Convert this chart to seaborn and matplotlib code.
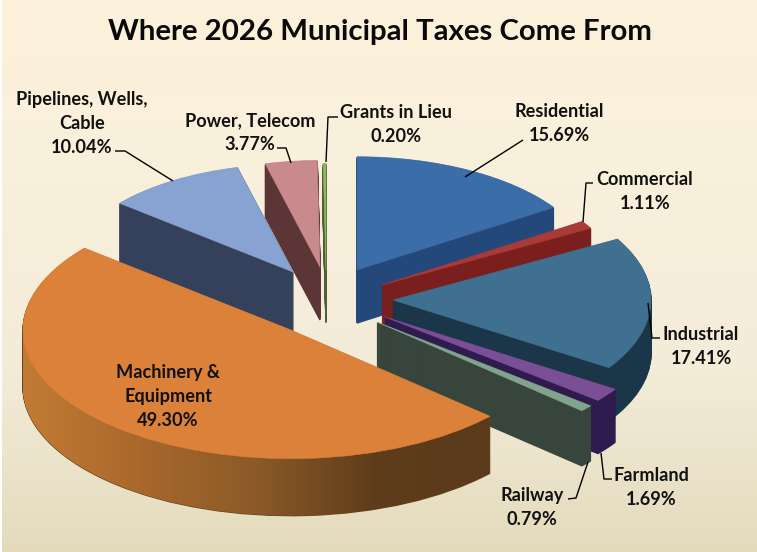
# /plot.py
"""
Where 2026 Municipal Taxes Come From - exploded 3D style pie.
The depth is faked by stacking ax.pie wedges on a squashed y axis.
"""
import numpy as np
import matplotlib
matplotlib.use("Agg")
import matplotlib.pyplot as plt
from matplotlib.colors import LinearSegmentedColormap
from matplotlib.path import Path
import seaborn as sns

# Data
categories = ["Residential", "Commercial", "Industrial", "Farmland", "Railway",
              "Machinery & Equipment", "Pipelines, Wells, Cable", "Power, Telecom", "Grants in Lieu"]
shares = [15.69, 1.11, 17.41, 1.69, 0.79, 49.30, 10.04, 3.77, 0.20]
label_names = ["Residential", "Commercial", "Industrial", "Farmland", "Railway",
               "Machinery &\nEquipment", "Pipelines, Wells,\nCable", "Power, Telecom", "Grants in Lieu"]

# Colours
top_colors = ["#3B6DA8", "#A93A38", "#40708F", "#7B4F96", "#80A58C",
              "#DB813A", "#88A3D1", "#C88A8D", "#8FB56A"]
side_colors = ["#24487A", "#7A1F1E", "#1B3648", "#2F1B4E", "#38453C",
               "#6B441F", "#35405A", "#5C3636", "#4D6035"]
machinery_side = ["#C27B34", "#A9682C", "#8B5A28", "#5F3D1B", "#5A3A1C"]
background = ["#FCF1DA", "#F9F0DC", "#F3ECD8", "#E4DBBD"]

# Layout, in pixels of the 757x552 picture
SQUASH = 0.48
apex_px = [(357, 270), (382, 285), (393, 300), (385, 317), (377, 322),
           (291, 330), (293, 272), (320, 267), (326, 270)]
radius_px = [236, 240, 258, 275, 276, 268, 225, 222, 222]
depth_px = [53, 53, 53, 53, 55, 57, 60, 53, 53]
draw_order = [8, 7, 0, 1, 6, 2, 3, 4, 5]

# (text centre x, first line y) for each label
label_pos = [(559, 110), (645, 178), (701, 333), (651, 474), (532, 494),
             (168, 371), (82, 98), (250, 119), (396, 111)]
leaders = [
    [(465, 177), (523, 140)],
    [(583, 222), (586, 183), (593, 183)],
    [(648, 303), (652, 338), (660, 338)],
    [(601, 453), (604, 479), (612, 479)],
    [(588, 462), (576, 498), (568, 499)],
    [(173, 181), (125, 151), (115, 151)],
    [(291, 163), (286, 148), (277, 148)],
    [(326, 162), (328, 117), (338, 117)],
]


def to_data(x, y):
    """Picture pixels to the squashed data coordinates."""
    return x, -y / SQUASH


def draw_slice(ax, idx, zorder):
    """Draw one slice: a stack of dark wedges and the light top."""
    x0, y0 = apex_px[idx]
    colors = ["none"] * len(shares)
    colors[idx] = side_colors[idx]
    paths = []
    for d in range(depth_px[idx], 0, -1):
        wedges, _ = ax.pie(shares, colors=colors, radius=radius_px[idx], center=to_data(x0, y0 + d),
                           startangle=90, counterclock=False, wedgeprops={"linewidth": 0})
        for w in wedges:
            w.set_zorder(zorder)
        # thin edge so the narrow tips do not fade out when stacked
        wedges[idx].set_edgecolor(side_colors[idx])
        wedges[idx].set_linewidth(1.0)
        paths.append(wedges[idx].get_path())

    # Machinery has the shaded outer wall
    if categories[idx].startswith("Machinery"):
        cmap = LinearSegmentedColormap.from_list("wall", machinery_side)
        im = ax.imshow(np.linspace(0, 1, 256)[None, :], cmap=cmap, aspect="auto",
                       extent=(22, 490, to_data(0, 552)[1], 0), zorder=zorder)
        im.set_clip_path(Path.make_compound_path(*paths), ax.transData)

    colors[idx] = top_colors[idx]
    wedges, _ = ax.pie(shares, colors=colors, radius=radius_px[idx], center=to_data(x0, y0),
                       startangle=90, counterclock=False, wedgeprops={"linewidth": 0})
    for w in wedges:
        w.set_zorder(zorder)
    wedges[idx].set_edgecolor(top_colors[idx])
    wedges[idx].set_linewidth(0.4)


def main():
    sns.set_theme(style="white")
    plt.rcParams["font.family"] = ["Lato", "DejaVu Sans"]

    fig = plt.figure(figsize=(7.57, 5.52), dpi=100, facecolor="white")
    ax = fig.add_axes([0, 0, 1, 1])

    bg = LinearSegmentedColormap.from_list("bg", background)
    ax.imshow(np.linspace(0, 1, 256)[:, None], cmap=bg, aspect="auto",
              extent=(2, 757, to_data(0, 552)[1], 0), zorder=0)

    for z, idx in enumerate(draw_order, start=1):
        draw_slice(ax, idx, z)

    # Leader lines
    for pts in leaders:
        xs, ys = zip(*[to_data(*p) for p in pts])
        ax.plot(xs, ys, color="black", lw=1.0, zorder=20, solid_capstyle="butt")

    # Labels
    for idx, (x, y) in enumerate(label_pos):
        text = f"{label_names[idx]}\n{shares[idx]:.2f}%"
        tx, ty = to_data(x, y - 7)
        ax.text(tx, ty, text, ha="center", va="top", fontsize=13.1, fontweight="bold",
                color="#111111", linespacing=1.5, zorder=21)

    tx, ty = to_data(380, 32)
    ax.text(tx, ty, "Where 2026 Municipal Taxes Come From", ha="center", va="center",
            fontsize=21.2, fontweight="bold", color="#0A0A0A", zorder=21)

    ax.set_aspect("auto")
    ax.set_xlim(0, 757)
    ax.set_ylim(to_data(0, 552)[1], 0)
    ax.axis("off")

    fig.savefig("out.png", dpi=100, facecolor="white")
    plt.close(fig)


if __name__ == "__main__":
    main()
